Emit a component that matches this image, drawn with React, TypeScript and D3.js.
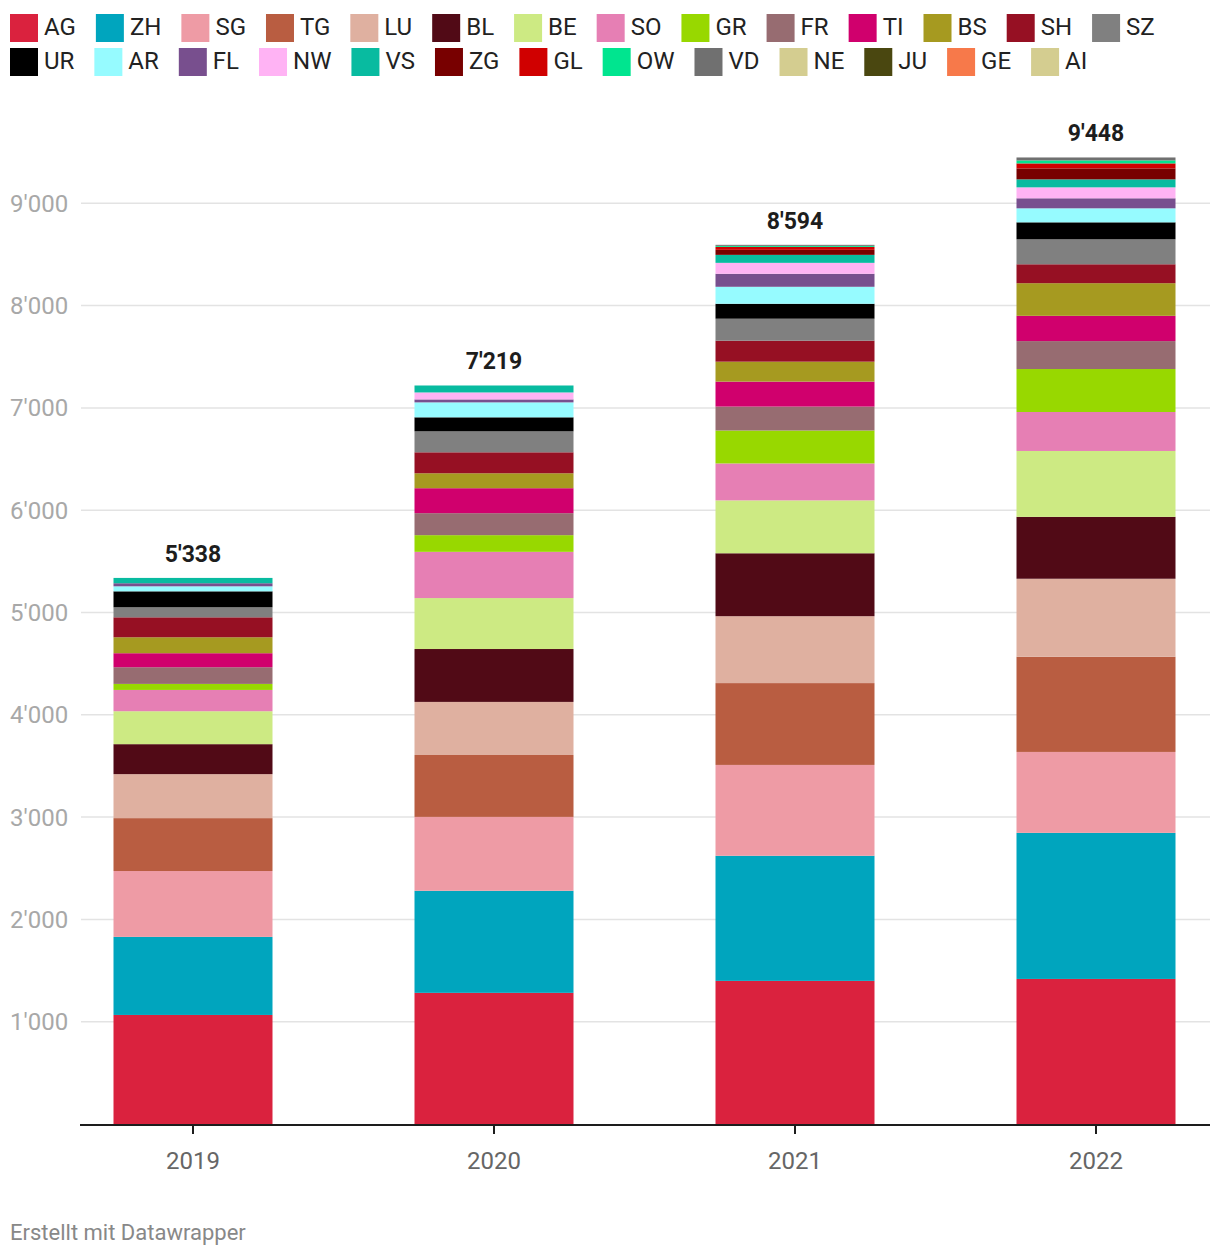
import { useEffect, useRef } from 'react'
import * as d3 from 'd3'

const years = ['2019', '2020', '2021', '2022']

const cantons = ['AG', 'ZH', 'SG', 'TG', 'LU', 'BL', 'BE', 'SO', 'GR', 'FR', 'TI', 'BS', 'SH', 'SZ',
  'UR', 'AR', 'FL', 'NW', 'VS', 'ZG', 'GL', 'OW', 'VD', 'NE', 'JU', 'GE', 'AI']

const cantonColors = ['#da223e', '#00a5be', '#ee9ba5', '#b95d41', '#dfb0a0', '#510a16', '#cdea83',
  '#e67fb4', '#98d800', '#976c71', '#d0006d', '#a69a20', '#961023', '#808080',
  '#000000', '#96fbff', '#784f8e', '#ffb3f4', '#08bba0', '#780000', '#d00000',
  '#00e58f', '#707070', '#d4cd90', '#4a4710', '#f7794a', '#d4cd90']

// values per canton, in order of `cantons`
const values2019 = [1066, 763, 644, 517, 430, 293, 322, 208, 59, 163, 137, 156, 195, 98, 156, 49, 30, 0, 52, 0, 0, 0, 0, 0, 0, 0, 0]
const values2020 = [1282, 998, 722, 605, 519, 517, 498, 452, 163, 215, 244, 146, 205, 205, 137, 146, 29, 68, 68, 0, 0, 0, 0, 0, 0, 0, 0]
const values2021 = [1399, 1223, 888, 800, 654, 615, 517, 361, 322, 234, 244, 195, 205, 215, 146, 166, 127, 107, 78, 49, 29, 10, 10, 0, 0, 0, 0]
const values2022 = [1418, 1428, 791, 930, 763, 605, 644, 381, 420, 273, 247, 319, 185, 244, 166, 137, 98, 107, 78, 107, 49, 29, 29, 0, 0, 0, 0]

const yTicks = [1000, 2000, 3000, 4000, 5000, 6000, 7000, 8000, 9000]

const FONT = 'Roboto, "Noto Sans", sans-serif'

export default function App() {
  const svgRef = useRef<SVGSVGElement>(null)

  useEffect(() => {
    document.body.style.margin = '0'
    if (!svgRef.current) return
    const svg = d3.select(svgRef.current)
    svg.selectAll('*').remove()

    const locale = d3.formatLocale({ decimal: '.', thousands: "'", grouping: [3], currency: ['', ''] })
    const fmt = locale.format(',d')

    const allValues = [values2019, values2020, values2021, values2022]
    const rows = years.map((year, i) => {
      const row: Record<string, any> = { year }
      cantons.forEach((c, j) => { row[c] = allValues[i][j] })
      return row
    })
    const totals = allValues.map(v => d3.sum(v))

    const x = d3.scalePoint<string>().domain(years).range([193, 1096])
    const barW = 159
    const y = d3.scaleLinear().domain([0, 9000]).range([1124, 203.3])
    const color = d3.scaleOrdinal<string, string>().domain(cantons).range(cantonColors)

    // legend, wraps after SZ
    const legend = svg.append('g')
    let lx = 10
    let ly = 14
    cantons.forEach((c, i) => {
      if (i === 14) { lx = 10; ly = 48 }
      const item = legend.append('g').attr('transform', `translate(${lx},${ly})`)
      item.append('rect').attr('width', 28).attr('height', 28).attr('fill', color(c))
      const t = item.append('text')
        .attr('x', 34).attr('y', 20.5)
        .attr('font-family', FONT).attr('font-size', 24).attr('fill', '#222')
        .text(c)
      const tw = (t.node() as SVGTextElement).getComputedTextLength()
      lx += 34 + tw + 20
    })

    // grid + y labels
    svg.append('g').selectAll('line').data(yTicks).join('line')
      .attr('x1', 81).attr('x2', 1210)
      .attr('y1', d => y(d)).attr('y2', d => y(d))
      .attr('stroke', '#e3e3e3').attr('stroke-width', 1.5)
    svg.append('g').selectAll('text').data(yTicks).join('text')
      .attr('x', 10).attr('y', d => y(d) + 8.5)
      .attr('font-family', FONT).attr('font-size', 24).attr('fill', '#a8a8a8')
      .text(d => fmt(d))

    // stacked bars
    const stack = d3.stack<Record<string, any>>().keys(cantons)(rows)
    svg.append('g').selectAll('g').data(stack).join('g')
      .attr('fill', d => color(d.key))
      .selectAll('rect').data(d => d).join('rect')
      .attr('x', d => x(d.data.year)! - barW / 2)
      .attr('width', barW)
      .attr('y', d => y(d[1]))
      .attr('height', d => Math.max(0, y(d[0]) - y(d[1])))

    // totals
    svg.append('g').selectAll('text').data(years).join('text')
      .attr('x', d => x(d)!)
      .attr('y', (d, i) => y(totals[i]) - 16)
      .attr('text-anchor', 'middle')
      .attr('font-family', FONT).attr('font-size', 23).attr('font-weight', 700).attr('fill', '#1d1d1d')
      .text((d, i) => fmt(totals[i]))

    // x axis
    svg.append('line')
      .attr('x1', 80).attr('x2', 1210).attr('y1', 1125).attr('y2', 1125)
      .attr('stroke', '#1d1d1d').attr('stroke-width', 2)
    svg.append('g').selectAll('line').data(years).join('line')
      .attr('x1', d => x(d)!).attr('x2', d => x(d)!)
      .attr('y1', 1125).attr('y2', 1134)
      .attr('stroke', '#1d1d1d').attr('stroke-width', 2)
    svg.append('g').selectAll('text').data(years).join('text')
      .attr('x', d => x(d)!).attr('y', 1169)
      .attr('text-anchor', 'middle')
      .attr('font-family', FONT).attr('font-size', 24).attr('fill', '#666')
      .text(d => d)

    svg.append('text')
      .attr('x', 10).attr('y', 1240)
      .attr('font-family', FONT).attr('font-size', 22).attr('fill', '#888')
      .text('Erstellt mit Datawrapper')
  }, [])

  return <svg ref={svgRef} width={1220} height={1258} style={{ display: 'block', background: '#fff' }} />
}
